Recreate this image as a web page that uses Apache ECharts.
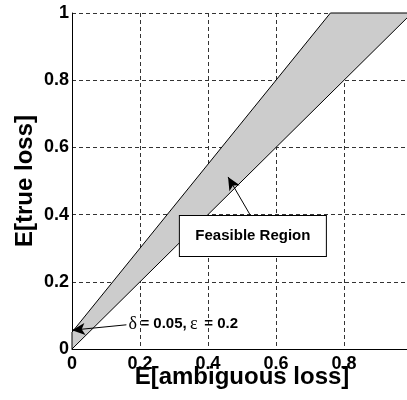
<!DOCTYPE html>
<html>
<head>
<meta charset="UTF-8">
<script src="https://cdn.jsdelivr.net/npm/echarts@6/dist/echarts.min.js"></script>
<style>
  html, body { margin: 0; padding: 0; background: #fff; }
  #main { width: 407px; height: 400px; }
</style>
</head>
<body>
<div id="main"></div>
<script>
// boundaries of the feasible region
var lowerX = [0, 1];
var lowerY = [0, 1];
var upperX = [0, 0.76, 1];
var upperY = [0.05, 1, 1];

// annotations (data coords)
var regionArrow = [[0.524, 0.399], [0.459, 0.512]];
var regionBox = [0.532, 0.336];
var paramArrow = [[0.16, 0.072], [0, 0.056]];
var paramText = [0.165, 0.074];

var font = 'Liberation Sans, Arial, sans-serif';

// polygon: upper edge then lower edge reversed
var poly = [];
for (var i = 0; i < upperX.length; i++) poly.push([upperX[i], upperY[i]]);
for (var j = lowerX.length - 1; j >= 0; j--) poly.push([lowerX[j], lowerY[j]]);

var chart = echarts.init(document.getElementById('main'));

function tickFmt(v) { return String(+v.toFixed(1)); }

chart.setOption({
  animation: false,
  grid: { left: 72, top: 13, width: 340, height: 336, outerBoundsMode: 'none', containLabel: false },
  xAxis: {
    type: 'value', min: 0, max: 1, interval: 0.2,
    name: 'E[ambiguous loss]', nameLocation: 'middle', nameGap: 16, nameMoveOverlap: false,
    nameTextStyle: { fontFamily: font, fontWeight: 'bold', fontSize: 24, color: '#000' },
    axisLine: { lineStyle: { color: '#000', width: 1 } },
    axisTick: { show: false },
    axisLabel: {
      fontFamily: font, fontWeight: 'bold', fontSize: 18, color: '#000', margin: 6,
      hideOverlap: false, showMaxLabel: true, showMinLabel: true, formatter: tickFmt
    },
    splitLine: { show: true, lineStyle: { color: '#333', width: 1, type: [4, 3] } }
  },
  yAxis: {
    type: 'value', min: 0, max: 1, interval: 0.2,
    name: 'E[true loss]', nameLocation: 'middle', nameGap: 35, nameMoveOverlap: false,
    nameTextStyle: { fontFamily: font, fontWeight: 'bold', fontSize: 24, color: '#000' },
    axisLine: { show: true, lineStyle: { color: '#000', width: 1 } },
    axisTick: { show: false },
    axisLabel: {
      fontFamily: font, fontWeight: 'bold', fontSize: 18, color: '#000', margin: 3,
      hideOverlap: false, formatter: tickFmt
    },
    splitLine: { show: true, lineStyle: { color: '#333', width: 1, type: [4, 3] } }
  },
  series: [
    {
      type: 'custom',
      data: [[0, 0]],
      z: 3,
      renderItem: function (params, api) {
        var pts = poly.map(function (p) { return api.coord(p); });
        return {
          type: 'polygon',
          shape: { points: pts },
          style: { fill: '#cccccc', stroke: '#000', lineWidth: 1 }
        };
      }
    },
    {
      type: 'line',
      data: [],
      z: 5,
      markLine: {
        silent: true,
        symbol: ['none', 'arrow'],
        symbolSize: [9, 13],
        label: { show: false },
        lineStyle: { color: '#000', width: 1, type: 'solid' },
        data: [
          [{ coord: regionArrow[0] }, { coord: regionArrow[1] }],
          [{ coord: paramArrow[0] }, { coord: paramArrow[1] }]
        ]
      },
      markPoint: {
        silent: true,
        data: [
          {
            coord: regionBox,
            symbol: 'circle',
            symbolSize: 1,
            itemStyle: { color: 'rgba(0,0,0,0)' },
            label: {
              show: true, position: 'inside',
              formatter: 'Feasible Region',
              fontFamily: font, fontWeight: 'bold', fontSize: 15, color: '#000',
              backgroundColor: '#fff', borderColor: '#000', borderWidth: 1,
              width: 122, height: 20, align: 'center', verticalAlign: 'middle',
              padding: [10, 12]
            }
          },
          {
            coord: paramText,
            symbol: 'circle',
            symbolSize: 1,
            itemStyle: { color: 'rgba(0,0,0,0)' },
            label: {
              show: true, position: 'right', distance: 0,
              formatter: '{g|δ} {b|= 0.05,} {g|ε}  {b|= 0.2}',
              rich: {
                g: { fontFamily: 'Liberation Serif, serif', fontSize: 18, color: '#000' },
                b: { fontFamily: font, fontWeight: 'bold', fontSize: 15, color: '#000' }
              }
            }
          }
        ]
      }
    }
  ]
});
</script>
</body>
</html>
